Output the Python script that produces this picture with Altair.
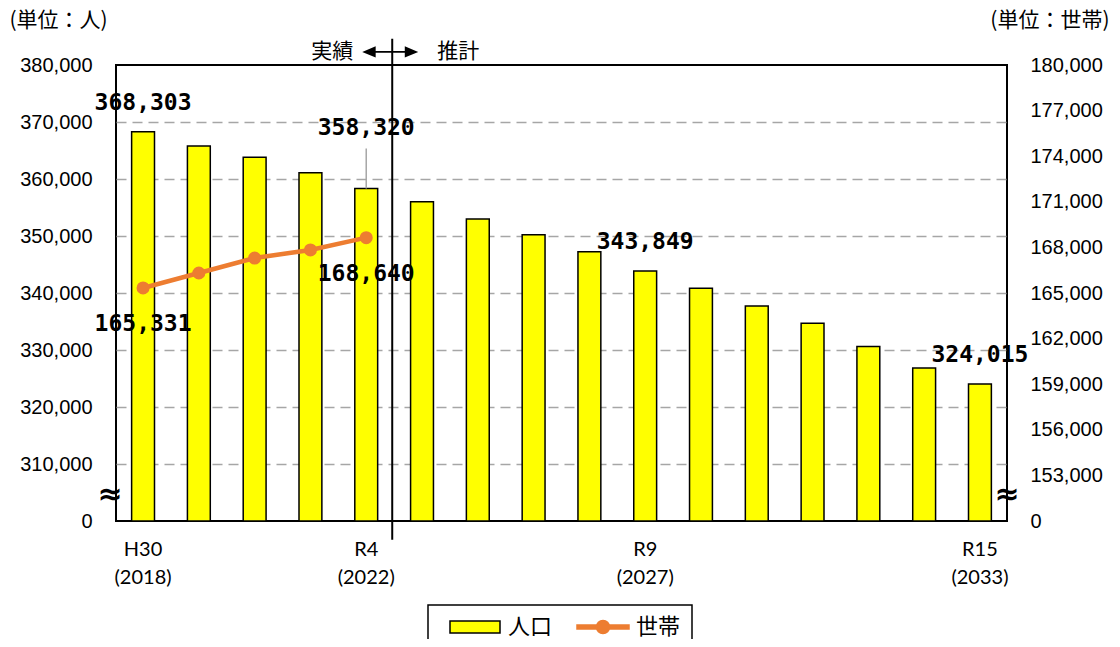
import altair as alt
import pandas as pd

# ---------------- data ----------------
years = list(range(2018, 2034))
population = [368303, 365800, 363800, 361100, 358320, 356000, 353000, 350200,
              347250, 343849, 340830, 337730, 334680, 330630, 326840, 324015]
hh_years = [2018, 2019, 2020, 2021, 2022]
households = [165331, 166316, 167300, 167830, 168640]

tick_years = [2018, 2022, 2027, 2033]
tick_era = ["H30", "R4", "R9", "R15"]

pop_label_years = [2018, 2027, 2033]
pop_label_far_years = [2022]
hh_label_years = [2018, 2022]
split_year = [2022]
phase_labels = ["実績", "推計"]

series_names = ["人口", "世帯"]
fill_colors = ["#FFFF00", "#ED7D31"]
stroke_colors = ["#000000", "#ED7D31"]

left_ticks = list(range(300000, 380001, 10000))
right_ticks = list(range(150000, 180001, 3000))
left_unit = "(単位：人)"
right_unit = "(単位：世帯)"

# ---------------- tables ----------------
pop_df = pd.DataFrame({"year": years, "pop": population, "series": series_names[0]})
pop_df["label"] = [f"{v:,}" for v in population]
hh_df = pd.DataFrame({"year": hh_years, "hh": households, "series": series_names[1]})
hh_df["label"] = [f"{v:,}" for v in households]
split_df = pd.DataFrame({"year": split_year})
legend_df = pd.DataFrame({"series": series_names})

W, H = 891, 456

rect_path = "M-1,-0.24H1V0.24H-1Z"
line_path = ("M-1.04,-0.08H1.04V0.08H-1.04Z "
             "M0.26,0A0.26,0.26 0 1,1 -0.26,0A0.26,0.26 0 1,1 0.26,0Z")
arrow_path = ("M-1,0L-0.52,-0.2L-0.52,-0.035L0.52,-0.035L0.52,-0.2L1,0"
              "L0.52,0.2L0.52,0.035L-0.52,0.035L-0.52,0.2Z")

x_scale = alt.Scale(domain=years, paddingInner=0.59, paddingOuter=0.28)
yl_scale = alt.Scale(domain=[left_ticks[0], left_ticks[-1]], zero=False, nice=False)
yr_scale = alt.Scale(domain=[right_ticks[0], right_ticks[-1]], zero=False, nice=False)
fill_scale = alt.Scale(domain=series_names, range=fill_colors)
stroke_scale = alt.Scale(domain=series_names, range=stroke_colors)
shape_scale = alt.Scale(domain=series_names, range=[rect_path, line_path])

label_expr = " : ".join(
    f"datum.value == {y} ? ['{e}', '({y})']" for y, e in zip(tick_years, tick_era)
) + " : ''"

x_axis = alt.Axis(labelExpr=label_expr, ticks=False, domain=False, labelAngle=0,
                  labelFont="Lato", labelFontSize=20, labelColor="black",
                  labelPadding=18, labelLineHeight=28, title=None)
x_enc = alt.X("year:O", scale=x_scale, axis=x_axis, title=None)

left_axis = alt.Axis(
    values=left_ticks,
    labelExpr=f"datum.value == {left_ticks[0]} ? '0' : format(datum.value, ',')",
    ticks=False, domain=False, grid=True,
    gridColor={"condition": {"test": f"datum.value == {left_ticks[0]} || datum.value == {left_ticks[-1]}",
                             "value": "transparent"}, "value": "#A6A6A6"},
    gridDash=[10, 6], gridWidth=1.5, labelOverlap=False,
    labelFont="Liberation Sans", labelFontSize=20, labelColor="black", labelPadding=24,
    title=left_unit, titleAngle=0, titleAlign="left", titleBaseline="middle",
    titleX=-107, titleY=-45, titleFont="Noto Sans CJK JP", titleFontSize=21,
    titleFontWeight="normal", titleColor="black",
)
right_axis = alt.Axis(
    orient="right", values=right_ticks,
    labelExpr=f"datum.value == {right_ticks[0]} ? '0' : format(datum.value, ',')",
    ticks=False, domain=False, grid=False, labelOverlap=False,
    labelFont="Liberation Sans", labelFontSize=20, labelColor="black", labelPadding=23,
    title=right_unit, titleAngle=0, titleAlign="right", titleBaseline="middle",
    titleX=102, titleY=-45, titleFont="Noto Sans CJK JP", titleFontSize=21,
    titleFontWeight="normal", titleColor="black",
)

lab_font = dict(font="DejaVu Sans Mono", fontWeight="bold", fontSize=23,
                color="black", baseline="middle")
yl_enc = alt.Y("pop:Q", scale=yl_scale, axis=left_axis, title=left_unit)
yr_enc = alt.Y("hh:Q", scale=yr_scale, axis=right_axis, title=right_unit)

# ---------------- left (population) ----------------
bars = alt.Chart(pop_df).mark_bar(strokeWidth=1.5).encode(
    x=x_enc,
    y=yl_enc,
    y2=alt.datum(left_ticks[0]),
    fill=alt.Fill("series:N", scale=fill_scale, legend=alt.Legend(title=None)),
    stroke=alt.Stroke("series:N", scale=stroke_scale, legend=alt.Legend(title=None)),
)
bar_labels = alt.Chart(pop_df).transform_filter(
    alt.FieldOneOfPredicate(field="year", oneOf=pop_label_years)
).mark_text(dy=-29, **lab_font).encode(x=x_enc, y=yl_enc, text="label:N")
bar_labels_far = alt.Chart(pop_df).transform_filter(
    alt.FieldOneOfPredicate(field="year", oneOf=pop_label_far_years)
).mark_text(dy=-61, **lab_font).encode(x=x_enc, y=yl_enc, text="label:N")
leader = alt.Chart(pop_df).transform_filter(
    alt.FieldOneOfPredicate(field="year", oneOf=pop_label_far_years)
).mark_rule(color="#A6A6A6", strokeWidth=1.5, y2Offset=-40).encode(
    x=x_enc, y=yl_enc, y2=alt.Y2("pop:Q"))

divider = alt.Chart(split_df).mark_rule(color="black", strokeWidth=2, xOffset=26).encode(
    x=x_enc, y=alt.datum(384600), y2=alt.datum(296700))
arrow = alt.Chart(split_df).mark_point(shape=arrow_path, size=3136, filled=True,
                                       color="black", opacity=1, xOffset=24).encode(
    x=x_enc, y=alt.datum(382300))
txt_actual = alt.Chart(split_df).mark_text(
    text=phase_labels[0], align="right", dx=-13, baseline="middle",
    font="Noto Sans CJK JP", fontSize=21, color="black").encode(x=x_enc, y=alt.datum(382300))
txt_forecast = alt.Chart(split_df).mark_text(
    text=phase_labels[1], align="left", dx=71, baseline="middle",
    font="Noto Sans CJK JP", fontSize=21, color="black").encode(x=x_enc, y=alt.datum(382300))
break_left = alt.Chart(split_df).mark_text(
    text="≈", align="center", baseline="middle", font="DejaVu Sans", fontSize=30,
    fontWeight="bold", color="black").encode(x=alt.value(-6), y=alt.datum(304600))

left = alt.layer(bars, bar_labels, bar_labels_far, leader, divider, arrow,
                 txt_actual, txt_forecast, break_left)

# ---------------- right (households) ----------------
line = alt.Chart(hh_df).mark_line(strokeWidth=4.5).encode(
    x=x_enc,
    y=yr_enc,
    stroke=alt.Stroke("series:N", scale=stroke_scale, legend=alt.Legend(title=None)),
)
points = alt.Chart(hh_df).mark_point(filled=True, size=170, opacity=1).encode(
    x=x_enc, y=yr_enc,
    fill=alt.Fill("series:N", scale=fill_scale, legend=alt.Legend(title=None)),
)
hh_labels = alt.Chart(hh_df).transform_filter(
    alt.FieldOneOfPredicate(field="year", oneOf=hh_label_years)
).mark_text(dy=36, **lab_font).encode(x=x_enc, y=yr_enc, text="label:N")
break_right = alt.Chart(split_df).mark_text(
    text="≈", align="center", baseline="middle", font="DejaVu Sans", fontSize=30,
    fontWeight="bold", color="black").encode(x=alt.value(W), y=alt.datum(151700))

right = alt.layer(line, points, hh_labels, break_right)

# ---------------- legend helper (no visible marks) ----------------
ghost = alt.Chart(legend_df).transform_filter("false").mark_point(filled=True, opacity=1).encode(
    shape=alt.Shape("series:N", scale=shape_scale, legend=alt.Legend(title=None)),
    fill=alt.Fill("series:N", scale=fill_scale, legend=alt.Legend(title=None)),
    stroke=alt.Stroke("series:N", scale=stroke_scale, legend=alt.Legend(title=None)),
)

chart = alt.layer(left, right, ghost).resolve_scale(y="independent").properties(
    width=W, height=H,
    autosize=alt.AutoSizeParams(type="none"),
    padding={"left": 108, "top": 57, "right": 104, "bottom": 118},
    background="white",
).configure_view(stroke="black", strokeWidth=2).configure_legend(
    orient="none", legendX=312, legendY=540, direction="horizontal",
    strokeColor="black", strokeWidth=1.5, fillColor="white", padding=11,
    symbolOffset=10, labelOffset=7, columnPadding=14, clipHeight=22,
    symbolSize=2500, symbolStrokeWidth=1.5, symbolOpacity=1,
    labelFont="Noto Sans CJK JP", labelFontSize=22, labelColor="black",
)

chart.save("out.html", embed_options={"renderer": "svg", "actions": False})
